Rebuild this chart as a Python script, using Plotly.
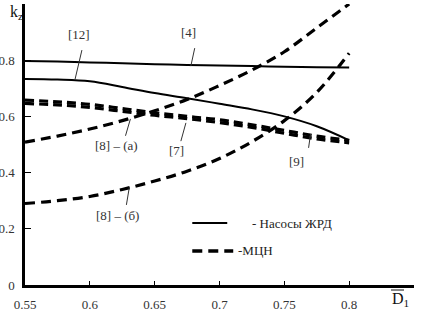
import plotly.graph_objects as go

# ---- data ----
x_vals = [0.55, 0.575, 0.6, 0.625, 0.65, 0.675, 0.7, 0.725, 0.75, 0.775, 0.8]

# Насосы ЖРД (solid)
ref4 = [0.797, 0.795, 0.792, 0.789, 0.786, 0.783, 0.781, 0.779, 0.777, 0.775, 0.774]
ref12 = [0.733, 0.731, 0.725, 0.705, 0.683, 0.665, 0.645, 0.625, 0.600, 0.565, 0.515]

# МЦН (dashed)
ref8a = [0.508, 0.530, 0.555, 0.585, 0.620, 0.660, 0.710, 0.765, 0.830, 0.915, 1.000]
ref8b = [0.290, 0.300, 0.315, 0.340, 0.370, 0.405, 0.450, 0.510, 0.585, 0.685, 0.825]
ref7_up = [0.658, 0.652, 0.643, 0.628, 0.613, 0.600, 0.588, 0.570, 0.550, 0.530, 0.515]
ref7_lo = [0.646, 0.641, 0.632, 0.618, 0.604, 0.592, 0.578, 0.561, 0.540, 0.520, 0.506]

x_ticks = [0.55, 0.6, 0.65, 0.7, 0.75, 0.8, 0.85]
x_tick_text = ["0.55", "0.6", "0.65", "0.7", "0.75", "0.8", ""]
y_ticks = [0, 0.2, 0.4, 0.6, 0.8]
y_tick_text = ["0", "0.2", "0.4", "0.6", "0.8"]

FONT = "Liberation Serif, Times New Roman, serif"
INK = "#111111"

fig = go.Figure()

solid = dict(color="black", width=2, shape="spline")
dashed = dict(color="black", width=3.2, dash="10px,6px", shape="spline")

for y in (ref4, ref12):
    fig.add_trace(go.Scatter(x=x_vals, y=y, mode="lines", line=solid,
                             showlegend=False, hoverinfo="skip"))
for y in (ref8a, ref8b):
    fig.add_trace(go.Scatter(x=x_vals, y=y, mode="lines", line=dashed,
                             showlegend=False, hoverinfo="skip"))
for y in (ref7_up, ref7_lo):
    fig.add_trace(go.Scatter(x=x_vals, y=y, mode="lines",
                             line=dict(color="black", width=3.2, dash="9px,5px", shape="spline"),
                             showlegend=False, hoverinfo="skip"))

# ---- labels with leader lines (data coords) ----
labels = [
    ("[12]", 0.5916, 0.890, (0.5939, 0.836, 0.5885, 0.730)),
    ("[4]", 0.6763, 0.897, (0.6809, 0.843, 0.6779, 0.779)),
    ("[8] – (а)", 0.6206, 0.495, (0.6313, 0.591, 0.6275, 0.531)),
    ("[7]", 0.6672, 0.480, (0.6741, 0.577, 0.6702, 0.512)),
    ("[9]", 0.7595, 0.441, (0.7702, 0.537, 0.7687, 0.488)),
    ("[8] – (б)", 0.6214, 0.249, (0.6305, 0.349, 0.6282, 0.285)),
]
for text, tx, ty, (x0, y0, x1, y1) in labels:
    fig.add_annotation(x=tx, y=ty, text=text, showarrow=False,
                       font=dict(family=FONT, size=13, color="#333333"))
    fig.add_shape(type="line", x0=x0, y0=y0, x1=x1, y1=y1, xref="x", yref="y",
                  line=dict(color="#333333", width=1))

# ---- manual legend (paper coords) ----
def px(xp):
    return (xp - 24.5) / 389.5

def py(yp):
    return (285 - yp) / 281

fig.add_shape(type="line", xref="paper", yref="paper", x0=px(192), x1=px(227),
              y0=py(223), y1=py(223), line=dict(color="black", width=2))
fig.add_annotation(xref="paper", yref="paper", x=px(250), y=py(223), xanchor="left",
                   yanchor="middle", text="- Насосы ЖРД", showarrow=False,
                   font=dict(family=FONT, size=13, color="#222222"))
fig.add_shape(type="line", xref="paper", yref="paper", x0=px(192), x1=px(233),
              y0=py(251), y1=py(251), line=dict(color="black", width=3.5, dash="10px,6px"))
fig.add_annotation(xref="paper", yref="paper", x=px(236), y=py(251), xanchor="left",
                   yanchor="middle", text="-МЦН", showarrow=False,
                   font=dict(family=FONT, size=13, color="#222222"))

# ---- axis titles ----
fig.add_annotation(xref="paper", yref="paper", x=px(7), y=py(12), xanchor="left",
                   yanchor="middle", text="k<sub>z</sub>", showarrow=False,
                   font=dict(family=FONT, size=16, color=INK))
fig.add_annotation(xref="paper", yref="paper", x=px(390), y=py(299), xanchor="left",
                   yanchor="middle", text="D<sub>1</sub>", showarrow=False,
                   font=dict(family=FONT, size=16, color=INK))
fig.add_shape(type="line", xref="paper", yref="paper", x0=px(391), x1=px(404),
              y0=py(290), y1=py(290), line=dict(color=INK, width=1))

fig.update_xaxes(range=[0.55, 0.85], tickvals=x_ticks, ticktext=x_tick_text,
                 showgrid=False, zeroline=False, showline=True, linecolor="black",
                 linewidth=2.5, ticks="inside", ticklen=4, tickwidth=1, tickcolor="black",
                 ticklabelstandoff=6, automargin=False,
                 tickfont=dict(family=FONT, size=13, color="#333333"))
fig.update_yaxes(range=[0, 1.0], tickvals=y_ticks, ticktext=y_tick_text,
                 showgrid=False, zeroline=False, showline=True, linecolor="black",
                 linewidth=2.5, ticks="inside", ticklen=6, tickwidth=1, tickcolor="black",
                 ticklabelstandoff=5, automargin=False,
                 tickfont=dict(family=FONT, size=13, color="#333333"))

fig.update_layout(width=421, height=311, margin=dict(l=25, r=7, t=4, b=26),
                  plot_bgcolor="white", paper_bgcolor="white",
                  font=dict(family=FONT))

fig.write_html("out.html", config={"displayModeBar": False},
               post_script="document.body.style.margin='0';document.body.style.overflow='hidden';")
